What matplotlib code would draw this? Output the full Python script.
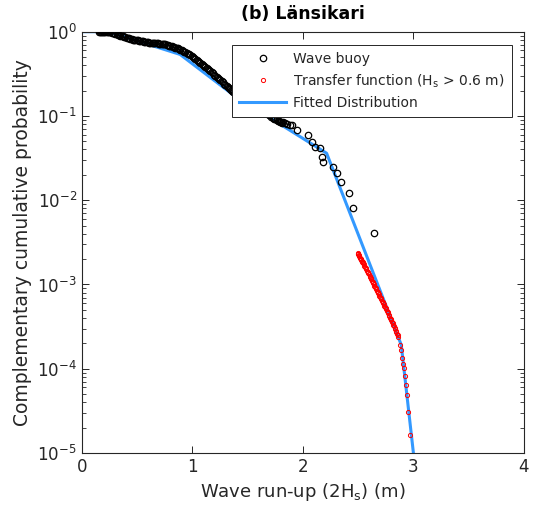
import matplotlib
matplotlib.use("Agg")
import matplotlib.pyplot as plt
import numpy as np

# === Data ===
# wave buoy: run-up (m) and log10 of complementary cumulative probability
buoy_x = [0.156, 0.175, 0.193, 0.215, 0.238, 0.260, 0.283, 0.305, 0.328, 0.350,
          0.373, 0.396, 0.419, 0.441, 0.464, 0.486, 0.509, 0.531, 0.554, 0.577,
          0.599, 0.622, 0.645, 0.667, 0.690, 0.712, 0.735, 0.757, 0.780, 0.802,
          0.825, 0.848, 0.871, 0.893, 0.916, 0.938, 0.961, 0.983, 1.006, 1.029,
          1.052, 1.074, 1.097, 1.119, 1.142, 1.164, 1.187, 1.209, 1.232, 1.255,
          1.278, 1.300, 1.323, 1.341, 1.359, 1.386, 1.413, 1.445, 1.476, 1.508,
          1.540, 1.572, 1.603, 1.635, 1.666, 1.698, 1.730, 1.752, 1.775, 1.793,
          1.811, 1.820, 1.838, 1.860, 1.880, 1.899, 1.944, 2.049, 2.080, 2.110,
          2.155, 2.170, 2.185, 2.275, 2.306, 2.342, 2.420, 2.450, 2.646]
buoy_logp = [0.000, 0.000, 0.000, -0.002, -0.004, -0.009, -0.015, -0.027, -0.039, -0.048,
             -0.057, -0.066, -0.075, -0.084, -0.093, -0.098, -0.104, -0.110, -0.116, -0.122,
             -0.128, -0.131, -0.134, -0.137, -0.140, -0.143, -0.146, -0.152, -0.158, -0.170,
             -0.181, -0.190, -0.199, -0.214, -0.229, -0.244, -0.259, -0.280, -0.300, -0.324,
             -0.347, -0.371, -0.395, -0.418, -0.442, -0.469, -0.496, -0.522, -0.549, -0.576,
             -0.603, -0.630, -0.656, -0.680, -0.703, -0.733, -0.763, -0.787, -0.810, -0.834,
             -0.857, -0.881, -0.905, -0.935, -0.964, -0.994, -1.023, -1.041, -1.059, -1.071,
             -1.083, -1.070, -1.087, -1.097, -1.102, -1.107, -1.166, -1.226, -1.305, -1.364,
             -1.383, -1.483, -1.542, -1.601, -1.680, -1.779, -1.910, -2.095, -2.391]
# more buoy points inside the dense band
buoy_x_dense = [0.165, 0.184, 0.204, 0.226, 0.249, 0.271, 0.294, 0.316, 0.339, 0.361,
                0.384, 0.407, 0.430, 0.452, 0.475, 0.497, 0.520, 0.542, 0.565, 0.588,
                0.610, 0.633, 0.656, 0.678, 0.701, 0.723, 0.746, 0.768, 0.791, 0.813,
                0.836, 0.859, 0.882, 0.904, 0.927, 0.949, 0.972, 0.994, 1.017, 1.040,
                1.063, 1.085, 1.108, 1.130, 1.153, 1.175, 1.198, 1.220, 1.243, 1.266,
                1.289, 1.311, 1.332, 1.350, 1.372, 1.400, 1.429, 1.460, 1.492, 1.524,
                1.556, 1.587, 1.619, 1.650, 1.682, 1.714, 1.741, 1.763, 1.784, 1.802]
buoy_logp_dense = [0.000, 0.000, -0.001, -0.003, -0.006, -0.012, -0.021, -0.033, -0.043, -0.052,
                   -0.061, -0.070, -0.079, -0.088, -0.095, -0.101, -0.107, -0.113, -0.119, -0.125,
                   -0.129, -0.132, -0.135, -0.138, -0.141, -0.144, -0.149, -0.155, -0.164, -0.175,
                   -0.185, -0.194, -0.206, -0.221, -0.236, -0.251, -0.269, -0.290, -0.312, -0.335,
                   -0.359, -0.383, -0.406, -0.430, -0.455, -0.482, -0.509, -0.535, -0.562, -0.589,
                   -0.616, -0.643, -0.668, -0.691, -0.718, -0.748, -0.775, -0.798, -0.822, -0.845,
                   -0.869, -0.893, -0.920, -0.950, -0.979, -1.008, -1.032, -1.050, -1.065, -1.077]

# transfer function (Hs > 0.6 m)
tf_x = [2.500, 2.503, 2.506, 2.510, 2.515, 2.522, 2.530, 2.538, 2.546, 2.557,
        2.568, 2.580, 2.591, 2.603, 2.614, 2.626, 2.637, 2.648, 2.660, 2.671,
        2.682, 2.693, 2.705, 2.716, 2.727, 2.738, 2.750, 2.761, 2.772, 2.783,
        2.795, 2.806, 2.817, 2.829, 2.840, 2.852, 2.863, 2.875, 2.885, 2.893,
        2.905, 2.912, 2.925, 2.935, 2.945, 2.950, 2.968,
        2.5015, 2.508, 2.518, 2.526, 2.534, 2.542, 2.551, 2.562, 2.574, 2.585,
        2.597, 2.608, 2.620, 2.631, 2.643, 2.654, 2.665, 2.677, 2.688, 2.699,
        2.710, 2.722, 2.733, 2.744, 2.755, 2.767, 2.778, 2.789, 2.800, 2.812,
        2.823, 2.834, 2.846, 2.857]
tf_logp = [-2.629, -2.640, -2.655, -2.665, -2.680, -2.695, -2.712, -2.730, -2.747, -2.777,
           -2.806, -2.836, -2.866, -2.896, -2.925, -2.955, -2.985, -3.015, -3.044, -3.074,
           -3.103, -3.133, -3.163, -3.192, -3.222, -3.252, -3.281, -3.311, -3.341, -3.375,
           -3.410, -3.445, -3.479, -3.514, -3.548, -3.583, -3.618, -3.720, -3.780, -3.870,
           -3.940, -3.990, -4.090, -4.190, -4.310, -4.510, -4.790,
           -2.634, -2.660, -2.688, -2.703, -2.721, -2.738, -2.762, -2.791, -2.821, -2.851,
           -2.881, -2.910, -2.940, -2.970, -3.000, -3.030, -3.059, -3.089, -3.118, -3.148,
           -3.178, -3.207, -3.237, -3.266, -3.296, -3.326, -3.358, -3.392, -3.427, -3.462,
           -3.496, -3.531, -3.566, -3.600]

# fitted distribution
fit_x = [0.0, 0.24, 0.89, 1.37, 2.215, 2.89, 3.0]
fit_p = [1.0, 1.0, 0.537, 0.178, 0.0361, 1.92e-4, 1.0e-5]

# === Plotting ===
plt.rcParams['font.family'] = ['DejaVu Sans']
fig = plt.figure(figsize=(5.35, 5.16), dpi=100)
ax = fig.add_axes([0.1527, 0.1221, 0.8267, 0.8165])

grey = '#262626'
bx = buoy_x + buoy_x_dense
bp = np.power(10.0, buoy_logp + buoy_logp_dense)
ax.plot(bx, bp, 'o', mfc='none', mec='black',
        ms=4.6, mew=0.9, label='Wave buoy', zorder=3)
ax.plot(tf_x, np.power(10.0, tf_logp), 'o', mfc='none', mec='red',
        ms=3.0, mew=0.7, label='Transfer function (H$\\mathregular{_s}$ > 0.6 m)', zorder=3)
ax.plot(fit_x, fit_p, '-', color='#3399ff', lw=2.2, label='Fitted Distribution', zorder=2)

ax.set_yscale('log')
ax.set_xlim(0, 4)
ax.set_ylim(1e-5, 1)
ax.set_xticks([0, 1, 2, 3, 4])

for s in ax.spines.values():
    s.set_color(grey)
    s.set_linewidth(0.8)
ax.tick_params(which='both', direction='in', top=True, right=True, colors=grey,
               labelsize=12)
ax.tick_params(which='major', length=5, width=0.7)
ax.tick_params(which='minor', length=3, width=0.6)

ax.set_xlabel('Wave run-up (2H$\\mathregular{_s}$) (m)', fontsize=13, color=grey)
ax.set_ylabel('Complementary cumulative probability', fontsize=13.5, color=grey)
ax.set_title('(b) Länsikari', fontsize=12.5, fontweight='bold', pad=9)

leg = ax.legend(loc='upper left', bbox_to_anchor=(0.34, 0.968), fontsize=10,
                frameon=True, fancybox=False, framealpha=1, edgecolor=grey,
                borderaxespad=0, handlelength=3.4, handletextpad=0.5,
                labelspacing=0.45, borderpad=0.5)
leg.get_frame().set_linewidth(0.7)
for t in leg.get_texts():
    t.set_color(grey)

plt.savefig('out.png', dpi=100)
